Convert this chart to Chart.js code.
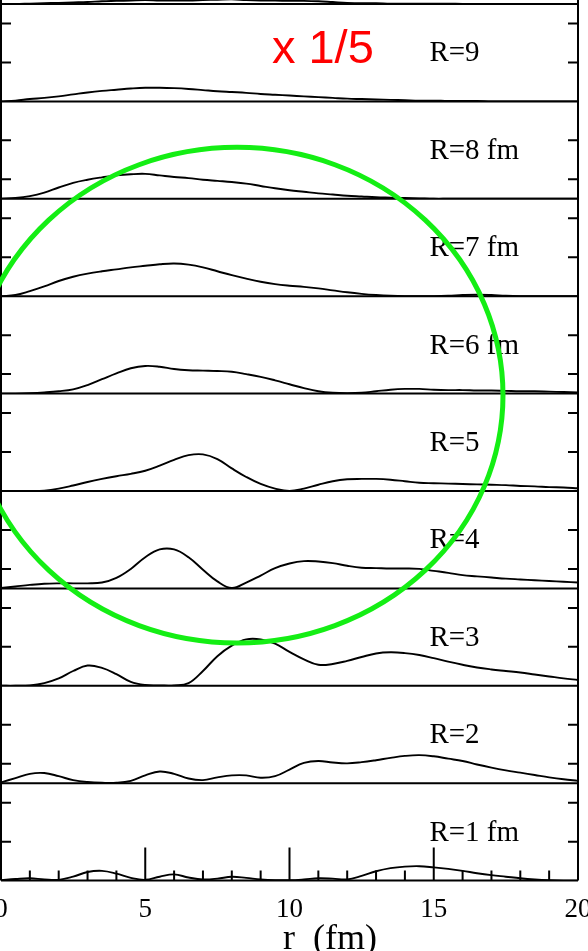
<!DOCTYPE html>
<html>
<head>
<meta charset="utf-8">
<script src="https://cdn.jsdelivr.net/npm/chart.js@4.4.1/dist/chart.umd.min.js"></script>
<style>
  html, body { margin: 0; padding: 0; background: #fff; }
  body { width: 588px; height: 951px; overflow: hidden; position: relative; }
  #wrap { position: absolute; left: -29px; top: -113px; }
</style>
</head>
<body>
<div id="wrap"><canvas id="densityChart" width="637" height="1075"></canvas></div>
<script>
// radial grid r (fm)
var r = [0, 0.5, 1, 1.5, 2, 2.5, 3, 3.5, 4, 4.5, 5, 5.5, 6, 6.5, 7, 7.5, 8, 8.5, 9, 9.5,
         10, 10.5, 11, 11.5, 12, 12.5, 13, 13.5, 14, 14.5, 15, 15.5, 16, 16.5, 17, 17.5, 18, 18.5, 19, 19.5, 20];

// density curves, one per separation R
var rho10 = [0, 0, 0.01, 0.02, 0.03, 0.04, 0.05, 0.07, 0.08, 0.09, 0.1, 0.09, 0.09, 0.09, 0.1, 0.11, 0.12, 0.1, 0.09, 0.09,
             0.08, 0.08, 0.07, 0.05, 0.03, 0.02, 0.02, 0.01, 0.01, 0.01, 0.01, 0.01, 0, 0, 0, 0, 0, 0, 0, 0, 0];
var rho9 = [0, 0.02, 0.06, 0.09, 0.13, 0.18, 0.23, 0.27, 0.3, 0.33, 0.35, 0.35, 0.34, 0.32, 0.29, 0.26, 0.24, 0.22, 0.19, 0.17,
            0.15, 0.13, 0.11, 0.09, 0.07, 0.06, 0.05, 0.04, 0.03, 0.02, 0.02, 0.01, 0.01, 0.01, 0, 0, 0, 0, 0, 0, 0];
var rho8 = [0, 0.02, 0.07, 0.16, 0.29, 0.41, 0.49, 0.55, 0.6, 0.63, 0.64, 0.6, 0.56, 0.53, 0.49, 0.46, 0.43, 0.39, 0.33, 0.27,
            0.22, 0.18, 0.14, 0.11, 0.08, 0.06, 0.04, 0.03, 0.02, 0.01, 0, 0, 0, 0, 0, 0, 0, 0, 0, 0, 0];
var rho7 = [0, 0.03, 0.13, 0.25, 0.39, 0.5, 0.58, 0.64, 0.69, 0.74, 0.78, 0.82, 0.84, 0.81, 0.74, 0.64, 0.54, 0.45, 0.37, 0.31,
            0.27, 0.24, 0.2, 0.15, 0.1, 0.06, 0.03, 0.01, 0, 0, 0, 0.01, 0.03, 0.04, 0.03, 0.01, 0, 0, 0, 0, 0];
var rho6 = [0, 0, 0.01, 0.03, 0.06, 0.11, 0.22, 0.37, 0.52, 0.65, 0.71, 0.69, 0.63, 0.6, 0.59, 0.58, 0.56, 0.5, 0.43, 0.34,
            0.24, 0.14, 0.06, 0.02, 0.01, 0.02, 0.06, 0.1, 0.12, 0.12, 0.1, 0.09, 0.09, 0.08, 0.08, 0.07, 0.06, 0.06, 0.05, 0.04, 0.03];
var rho5 = [0, 0, 0, 0.01, 0.06, 0.14, 0.23, 0.31, 0.38, 0.44, 0.52, 0.65, 0.8, 0.92, 0.94, 0.82, 0.58, 0.36, 0.18, 0.06,
            0, 0.06, 0.16, 0.25, 0.3, 0.31, 0.31, 0.29, 0.25, 0.21, 0.2, 0.19, 0.18, 0.17, 0.16, 0.15, 0.13, 0.12, 0.1, 0.09, 0.07];
var rho4 = [0.01, 0.05, 0.09, 0.12, 0.13, 0.13, 0.13, 0.15, 0.27, 0.5, 0.8, 1.0, 1.0, 0.8, 0.48, 0.18, 0.01, 0.15, 0.33, 0.52,
            0.64, 0.7, 0.69, 0.65, 0.58, 0.53, 0.52, 0.51, 0.51, 0.5, 0.45, 0.4, 0.34, 0.31, 0.28, 0.25, 0.23, 0.21, 0.19, 0.17, 0.15];
var rho3 = [0, 0, 0.01, 0.07, 0.19, 0.38, 0.52, 0.46, 0.3, 0.1, 0.02, 0.01, 0.01, 0.07, 0.38, 0.76, 1.03, 1.19, 1.19, 1.08,
            0.87, 0.68, 0.54, 0.56, 0.64, 0.74, 0.83, 0.86, 0.84, 0.79, 0.71, 0.62, 0.54, 0.47, 0.42, 0.38, 0.34, 0.29, 0.24, 0.19, 0.15];
var rho2 = [0.02, 0.13, 0.24, 0.26, 0.18, 0.08, 0.03, 0.01, 0.01, 0.06, 0.2, 0.3, 0.24, 0.12, 0.08, 0.15, 0.2, 0.2, 0.14, 0.18,
            0.35, 0.52, 0.57, 0.53, 0.51, 0.54, 0.59, 0.65, 0.7, 0.72, 0.69, 0.63, 0.57, 0.48, 0.4, 0.33, 0.27, 0.21, 0.15, 0.1, 0.06];
var rho1 = [0.01, 0.04, 0.06, 0.03, 0.02, 0.1, 0.22, 0.25, 0.18, 0.07, 0.02, 0.1, 0.16, 0.08, 0.03, 0.05, 0.1, 0.07, 0.03, 0.01,
            0.01, 0.03, 0.06, 0.05, 0.03, 0.12, 0.24, 0.32, 0.36, 0.37, 0.34, 0.3, 0.25, 0.19, 0.14, 0.1, 0.06, 0.03, 0.01, 0, 0];

// panels from bottom (R=1) to top (R=10, cut off by the page)
var panelSeries = [rho1, rho2, rho3, rho4, rho5, rho6, rho7, rho8, rho9, rho10];
var panelLabels = ['R=1 fm', 'R=2', 'R=3', 'R=4', 'R=5', 'R=6 fm', 'R=7 fm', 'R=8 fm', 'R=9', 'R=10'];

// axis ticks
var xTicks = [0, 5, 10, 15, 20];
var oddPanelTicks = [0, 1, 2];
var evenPanelTicks = [0.5, 1.5, 2.5];

// annotations: label position (r, panel units), scale note, highlight ring
var labelPos = [14.85, 1.22];
var noteText = 'x 1/5';
var notePos = [9.39, 1.32];          // in the R=9 panel
var ring = [8.18, -0.04, 9.22, 6.36]; // centre r, centre y (R=6 panel), radius r, radius y

var serif = 'Liberation Serif, Times New Roman, serif';

var scales = {
    x: {
        type: 'linear',
        position: 'bottom',
        min: 0,
        max: 20,
        grid: { display: false, drawTicks: false },
        border: { display: false },
        afterBuildTicks: function(scale) {
            scale.ticks = xTicks.map(function(v) { return { value: v }; });
        },
        afterFit: function(scale) { scale.height = 81; },
        ticks: {
            color: '#000',
            padding: 13,
            maxRotation: 0,
            font: { family: serif, size: 27 }
        },
        title: {
            display: true,
            text: '         r  (fm)',
            color: '#000',
            padding: 0,
            font: { family: serif, size: 36 }
        }
    }
};

var datasets = [];
panelSeries.forEach(function(vals, i) {
    var R = i + 1;
    var id = 'y' + R;
    var tickVals = (R % 2 === 1) ? oddPanelTicks : evenPanelTicks;
    scales[id] = {
        type: 'linear',
        position: 'left',
        stack: 'panels',
        stackWeight: 1,
        min: 0,
        max: 2.5,
        grid: { display: false, drawTicks: false },
        border: { display: false },
        ticks: { display: false },
        afterBuildTicks: function(scale) {
            scale.ticks = tickVals.map(function(v) { return { value: v }; });
        },
        afterFit: function(scale) { scale.width = 0; }
    };
    datasets.push({
        label: panelLabels[i],
        data: r.map(function(x, k) { return { x: x, y: vals[k] }; }),
        xAxisID: 'x',
        yAxisID: id,
        borderColor: '#000',
        borderWidth: 1.9,
        borderJoinStyle: 'round',
        pointRadius: 0,
        fill: false,
        tension: 0.4
    });
});

// frame, inward ticks, panel labels and overlays
var framePlugin = {
    id: 'frame',
    afterDraw: function(chart) {
        var ctx = chart.ctx, area = chart.chartArea, xs = chart.scales.x;
        ctx.save();
        ctx.strokeStyle = '#000';
        ctx.lineWidth = 2;
        ctx.beginPath();
        ctx.moveTo(area.left, area.top); ctx.lineTo(area.left, area.bottom);
        ctx.moveTo(area.right, area.top); ctx.lineTo(area.right, area.bottom);
        panelSeries.forEach(function(vals, i) {
            var ys = chart.scales['y' + (i + 1)];
            ctx.moveTo(area.left, ys.bottom); ctx.lineTo(area.right, ys.bottom);
            ys.ticks.forEach(function(t) {
                var py = ys.getPixelForValue(t.value);
                ctx.moveTo(area.left, py); ctx.lineTo(area.left + 10, py);
                ctx.moveTo(area.right, py); ctx.lineTo(area.right - 10, py);
            });
        });
        // x ticks drawn inside the bottom panel
        for (var v = xs.min + 1; v < xs.max; v++) {
            var px = xs.getPixelForValue(v);
            var len = (v % 5 === 0) ? 33 : 10;
            ctx.moveTo(px, area.bottom); ctx.lineTo(px, area.bottom - len);
        }
        ctx.stroke();

        // panel labels
        ctx.fillStyle = '#000';
        ctx.font = '29px ' + serif;
        ctx.textAlign = 'left';
        ctx.textBaseline = 'middle';
        panelLabels.forEach(function(lbl, i) {
            var ys = chart.scales['y' + (i + 1)];
            ctx.fillText(lbl, xs.getPixelForValue(labelPos[0]), ys.getPixelForValue(labelPos[1]));
        });

        // scale note
        var y9 = chart.scales.y9;
        ctx.fillStyle = '#ff0000';
        ctx.font = '47px Liberation Sans, Arial, sans-serif';
        ctx.fillText(noteText, xs.getPixelForValue(notePos[0]), y9.getPixelForValue(notePos[1]));

        // highlight ring
        var y6 = chart.scales.y6;
        var cx = xs.getPixelForValue(ring[0]);
        var cy = y6.getPixelForValue(ring[1]);
        var rx = xs.getPixelForValue(ring[0] + ring[2]) - cx;
        var ry = y6.getPixelForValue(ring[1]) - y6.getPixelForValue(ring[1] + ring[3]);
        ctx.strokeStyle = 'rgb(20, 238, 20)';
        ctx.lineWidth = 5;
        ctx.beginPath();
        ctx.ellipse(cx, cy, rx, ry, 0, 0, 2 * Math.PI);
        ctx.stroke();
        ctx.restore();
    }
};

new Chart(document.getElementById('densityChart').getContext('2d'), {
    type: 'line',
    data: { datasets: datasets },
    options: {
        responsive: false,
        animation: false,
        layout: { padding: { left: 30, right: 30, top: 19.6, bottom: 0.4 } },
        plugins: { legend: { display: false }, tooltip: { enabled: false } },
        scales: scales
    },
    plugins: [framePlugin]
});
</script>
</body>
</html>
